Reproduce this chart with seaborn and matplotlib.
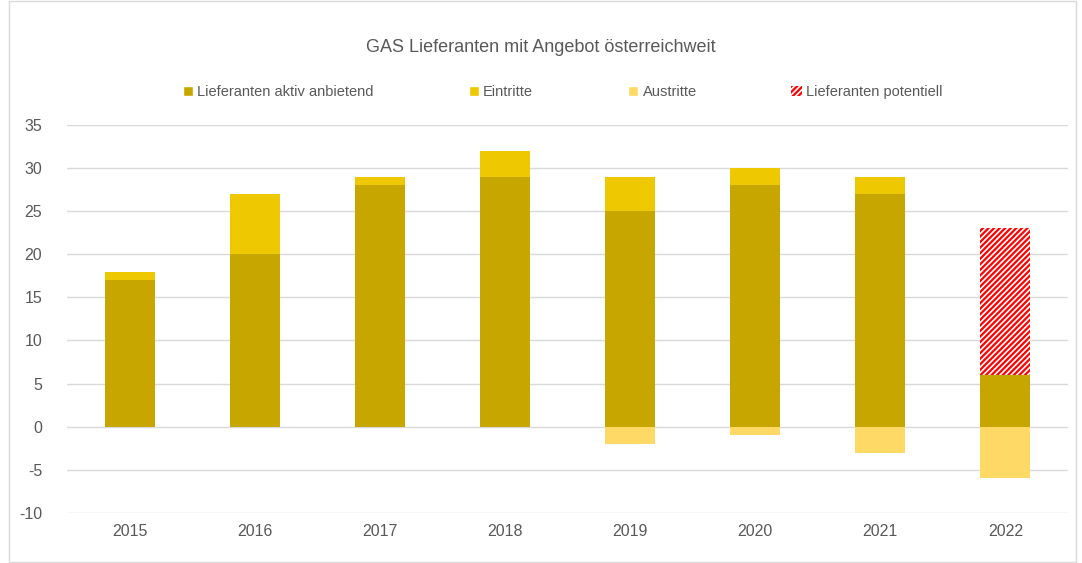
import matplotlib
matplotlib.use("Agg")
import matplotlib.pyplot as plt
from matplotlib.patches import Patch, Rectangle
import seaborn as sns

years = ["2015", "2016", "2017", "2018", "2019", "2020", "2021", "2022"]
aktiv = [17, 20, 28, 29, 25, 28, 27, 6]
eintritte = [1, 7, 1, 3, 4, 2, 2, 0]
austritte = [0, 0, 0, 0, -2, -1, -3, -6]
potentiell = [0, 0, 0, 0, 0, 0, 0, 17]

c_aktiv = "#C8A600"
c_ein = "#EEC800"
c_aus = "#FFD966"
c_pot = "#FF0000"

sns.set_style("white")
plt.rcParams["font.family"] = ["Liberation Sans", "DejaVu Sans"]
plt.rcParams["axes.unicode_minus"] = False
plt.rcParams["hatch.linewidth"] = 1.6
plt.rcParams["hatch.color"] = c_pot

fig = plt.figure(figsize=(10.82, 5.63), dpi=100)
ax = fig.add_axes([0.062, 0.089, 0.925, 0.689])

w = 0.4
sns.barplot(x=years, y=aktiv, color=c_aktiv, width=w, saturation=1, ax=ax, linewidth=0)
sns.barplot(x=years, y=eintritte, bottom=aktiv, color=c_ein, width=w, saturation=1, ax=ax, linewidth=0)
sns.barplot(x=years, y=austritte, color=c_aus, width=w, saturation=1, ax=ax, linewidth=0)
sns.barplot(x=years, y=potentiell, bottom=aktiv, color="white", width=w, saturation=1,
            ax=ax, hatch="//////", edgecolor=c_pot, linewidth=0)

ax.set_ylim(-10, 35)
ax.set_yticks(range(-10, 36, 5))
ax.set_xlim(-0.5, len(years) - 0.5)
ax.yaxis.grid(True, color="#D9D9D9", linewidth=1)
ax.set_axisbelow(True)
for s in ax.spines.values():
    s.set_visible(False)
ax.tick_params(axis="both", length=0, labelsize=11.5, labelcolor="#595959")
ax.tick_params(axis="y", pad=18)
ax.tick_params(axis="x", pad=8)
ax.set_xlabel("")
ax.set_ylabel("")

fig.text(0.5, 0.915, "GAS Lieferanten mit Angebot österreichweit", ha="center", va="center",
         fontsize=13, color="#595959")

handles = [
    Patch(facecolor=c_aktiv, label="Lieferanten aktiv anbietend"),
    Patch(facecolor=c_ein, label="Eintritte"),
    Patch(facecolor=c_aus, label="Austritte"),
    Patch(facecolor="white", edgecolor=c_pot, hatch="//////", linewidth=0, label="Lieferanten potentiell"),
]
fig.legend(handles=handles, loc="center", bbox_to_anchor=(0.52, 0.837), ncol=4, frameon=False,
           fontsize=10.5, handlelength=0.7, handleheight=0.7, handletextpad=0.3,
           columnspacing=6.5, labelcolor="#595959")

fig.patches.append(Rectangle((0.008, 0.002), 0.986, 0.996, transform=fig.transFigure,
                             fill=False, edgecolor="#D9D9D9", linewidth=1))

fig.savefig("out.png", dpi=100)
